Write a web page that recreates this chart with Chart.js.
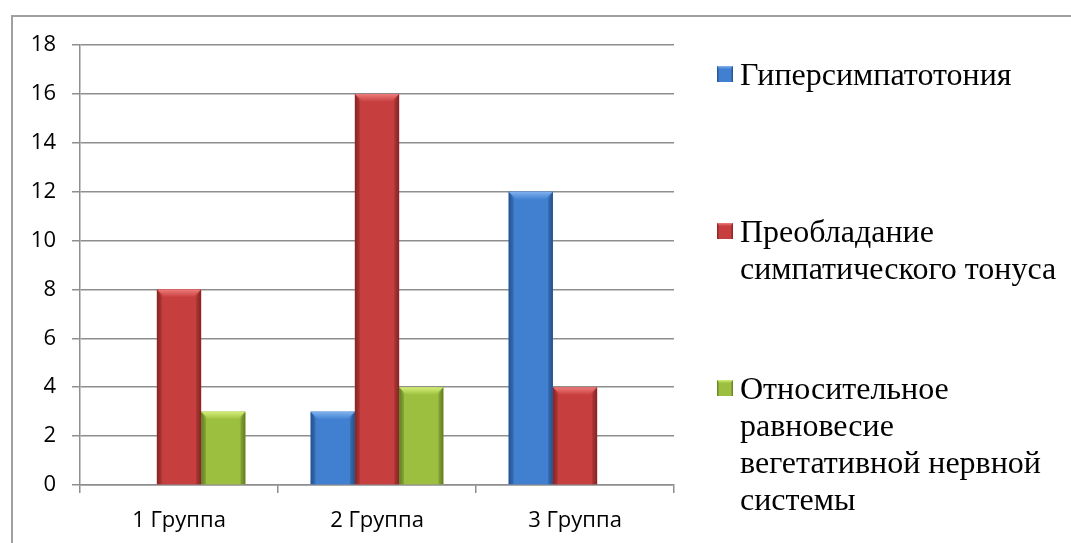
<!DOCTYPE html>
<html>
<head>
<meta charset="utf-8">
<script src="https://cdn.jsdelivr.net/npm/chart.js@4.4.0/dist/chart.umd.min.js"></script>
<style>
  html, body { margin: 0; padding: 0; background: #fff; }
  #wrap { width: 1071px; height: 543px; position: relative; }
</style>
</head>
<body>
<div id="wrap"><canvas id="vegChart"></canvas></div>
<script>
// 데이터
const groups = ["1 Группа", "2 Группа", "3 Группа"];
const seriesNames = [
  "Гиперсимпатотония",
  "Преобладание симпатического тонуса",
  "Относительное равновесие вегетативной нервной системы",
];
const hyperValues = [0, 3, 12];
const sympValues = [8, 16, 4];
const balanceValues = [3, 4, 0];
const yTicks = [0, 2, 4, 6, 8, 10, 12, 14, 16, 18];

// 색상 (본체, 가장자리, 윗면)
const palette = [
  { body: "#4180d0", edge: "#2a5ca3", light: "#80b2ee" },
  { body: "#c73e3e", edge: "#9a2a2a", light: "#ee7c7c" },
  { body: "#9cbf3f", edge: "#718f29", light: "#d4ee78" },
];

const GRID = "#8e8e8e";

// 막대에 입체 효과 그리기
function drawBevelBox(ctx, left, top, right, bottom, c) {
  const w = right - left;
  const b = Math.min(8, w / 5, (bottom - top) / 2);
  const g = ctx.createLinearGradient(left, 0, right, 0);
  g.addColorStop(0, c.edge);
  g.addColorStop(0.12, c.body);
  g.addColorStop(0.5, c.body);
  g.addColorStop(0.88, c.body);
  g.addColorStop(1, c.edge);
  ctx.fillStyle = g;
  ctx.fillRect(left, top, w, bottom - top);

  // 윗면
  const tg = ctx.createLinearGradient(0, top, 0, top + b);
  tg.addColorStop(0, c.light);
  tg.addColorStop(1, c.body);
  ctx.fillStyle = tg;
  ctx.beginPath();
  ctx.moveTo(left, top);
  ctx.lineTo(right, top);
  ctx.lineTo(right - b, top + b);
  ctx.lineTo(left + b, top + b);
  ctx.closePath();
  ctx.fill();

  // 양 옆 어두운 면
  ctx.fillStyle = "rgba(0,0,0,0.12)";
  ctx.beginPath();
  ctx.moveTo(left, top);
  ctx.lineTo(left + b * 0.6, top + b);
  ctx.lineTo(left + b * 0.6, bottom);
  ctx.lineTo(left, bottom);
  ctx.closePath();
  ctx.fill();
  ctx.beginPath();
  ctx.moveTo(right, top);
  ctx.lineTo(right - b * 0.6, top + b);
  ctx.lineTo(right - b * 0.6, bottom);
  ctx.lineTo(right, bottom);
  ctx.closePath();
  ctx.fill();
}

const bevelPlugin = {
  id: "bevel",
  afterDatasetsDraw(chart) {
    const ctx = chart.ctx;
    ctx.save();
    chart.data.datasets.forEach((ds, i) => {
      const meta = chart.getDatasetMeta(i);
      meta.data.forEach((bar, j) => {
        if (!ds.data[j]) return;
        const p = bar.getProps(["x", "y", "base", "width"], true);
        drawBevelBox(ctx, p.x - p.width / 2, p.y, p.x + p.width / 2, p.base, palette[i]);
      });
    });
    ctx.restore();
  },
};

// 텍스트 줄바꿈
function wrapText(ctx, text, maxWidth) {
  const words = text.split(" ");
  const lines = [];
  let line = "";
  words.forEach((w) => {
    const test = line ? line + " " + w : w;
    if (ctx.measureText(test).width > maxWidth && line) {
      lines.push(line);
      line = w;
    } else {
      line = test;
    }
  });
  if (line) lines.push(line);
  return lines;
}

// 범례 + 바깥 테두리
const legendPlugin = {
  id: "sideLegend",
  beforeDraw(chart) {
    const ctx = chart.ctx;
    ctx.save();
    ctx.strokeStyle = "#a0a0a0";
    ctx.lineWidth = 2;
    ctx.beginPath();
    ctx.moveTo(12, 543);
    ctx.lineTo(12, 16);
    ctx.lineTo(1071, 16);
    ctx.stroke();
    ctx.restore();
  },
  afterDraw(chart) {
    const ctx = chart.ctx;
    ctx.save();
    const firstBaseline = 85;
    const step = 157;
    const lineH = 37;
    seriesNames.forEach((name, i) => {
      const base = firstBaseline + step * i;
      drawBevelBox(ctx, 717, base - 19, 733, base - 3, palette[i]);
      ctx.font = "32px 'Liberation Serif'";
      ctx.fillStyle = "#000";
      ctx.textBaseline = "alphabetic";
      const lines = wrapText(ctx, name, 322);
      lines.forEach((ln, k) => {
        ctx.fillText(ln, 740, base + k * lineH);
      });
    });
    ctx.restore();
  },
};

const ctx = document.getElementById("vegChart").getContext("2d");
new Chart(ctx, {
  type: "bar",
  data: {
    labels: groups,
    datasets: [
      { label: seriesNames[0], data: hyperValues, backgroundColor: palette[0].body },
      { label: seriesNames[1], data: sympValues, backgroundColor: palette[1].body },
      { label: seriesNames[2], data: balanceValues, backgroundColor: palette[2].body },
    ],
  },
  options: {
    responsive: true,
    maintainAspectRatio: false,
    animation: false,
    devicePixelRatio: 1,
    layout: {
      padding: { top: 45, right: 397, left: 0, bottom: 0 },
    },
    datasets: {
      bar: {
        categoryPercentage: 0.67,
        barPercentage: 1.0,
        borderWidth: 0,
      },
    },
    plugins: {
      legend: { display: false },
      title: { display: false },
      tooltip: { enabled: false },
    },
    scales: {
      x: {
        offset: true,
        afterFit: (scale) => {
          scale.height = 58;
        },
        grid: {
          offset: true,
          drawOnChartArea: false,
          drawTicks: true,
          tickLength: 8,
          color: GRID,
          lineWidth: 1.5,
        },
        border: { display: true, color: GRID, width: 1.5 },
        ticks: {
          color: "#000",
          padding: 15,
          font: { family: "'Open Sans'", size: 22 },
        },
      },
      y: {
        min: 0,
        max: 18,
        afterFit: (scale) => {
          scale.width = 80;
        },
        afterBuildTicks: (scale) => {
          scale.ticks = yTicks.map((v) => ({ value: v }));
        },
        grid: {
          color: GRID,
          lineWidth: 1.5,
          tickLength: 8,
        },
        border: { display: true, color: GRID, width: 1.5 },
        ticks: {
          color: "#000",
          padding: 16,
          font: { family: "'Open Sans'", size: 22 },
        },
      },
    },
  },
  plugins: [bevelPlugin, legendPlugin],
});
</script>
</body>
</html>
